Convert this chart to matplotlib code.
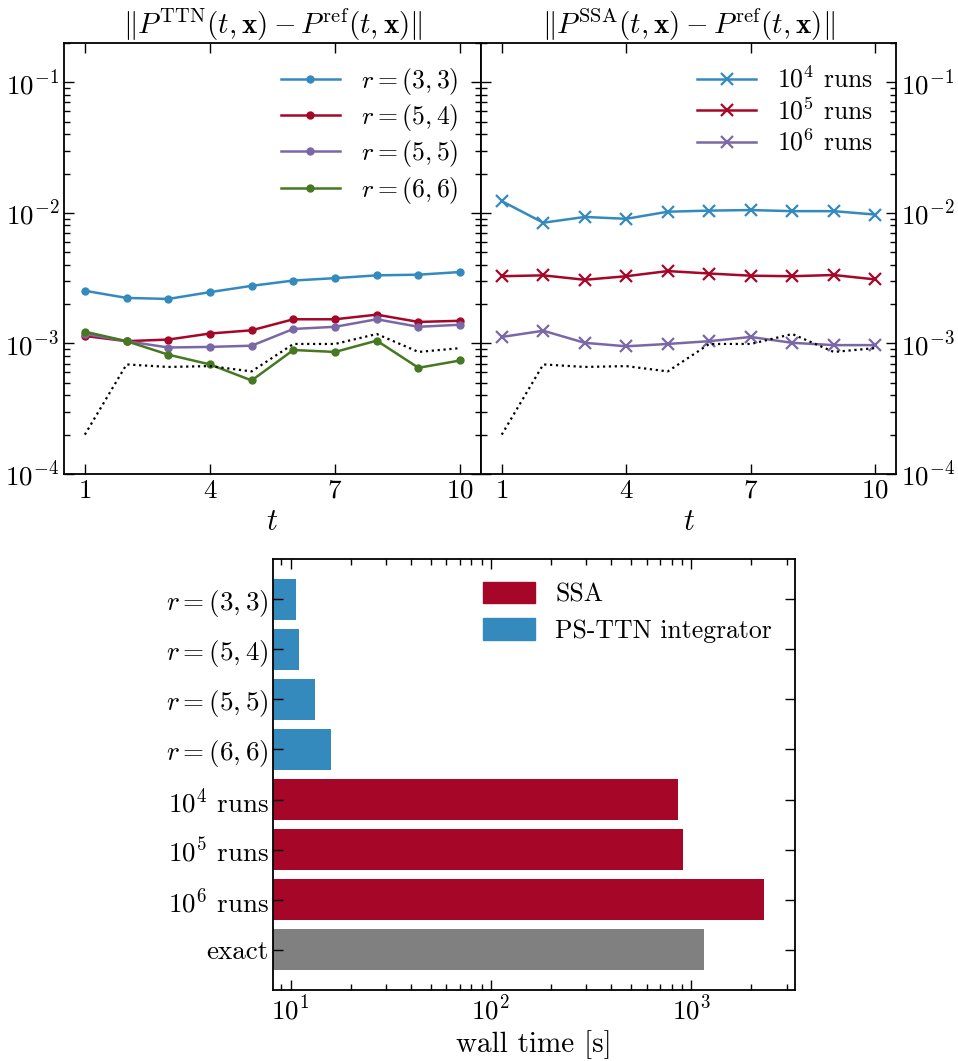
import matplotlib
matplotlib.use('Agg')
import matplotlib.pyplot as plt
import numpy as np
from matplotlib.patches import Patch

plt.rcParams['font.family'] = 'serif'
plt.rcParams['font.serif'] = ['cmr10']
plt.rcParams['mathtext.fontset'] = 'cm'
plt.rcParams['axes.formatter.use_mathtext'] = True
plt.rcParams['axes.unicode_minus'] = False

# colours (bmh-like)
c_blue = '#348ABD'
c_red = '#A60628'
c_purple = '#7A68A6'
c_green = '#467821'
c_gray = '#808080'

t = np.arange(1, 11)

# error of the TTN integrator for various ranks
err_r33 = [2.53e-3, 2.23e-3, 2.19e-3, 2.47e-3, 2.76e-3, 3.03e-3, 3.16e-3, 3.32e-3, 3.36e-3, 3.52e-3]
err_r54 = [1.14e-3, 1.04e-3, 1.07e-3, 1.19e-3, 1.26e-3, 1.53e-3, 1.53e-3, 1.66e-3, 1.46e-3, 1.49e-3]
err_r55 = [1.18e-3, 1.04e-3, 9.3e-4, 9.4e-4, 9.6e-4, 1.29e-3, 1.34e-3, 1.53e-3, 1.34e-3, 1.39e-3]
err_r66 = [1.23e-3, 1.04e-3, 8.2e-4, 6.9e-4, 5.2e-4, 8.9e-4, 8.6e-4, 1.05e-3, 6.5e-4, 7.4e-4]

# error of SSA for various numbers of runs
err_ssa4 = [1.23e-2, 8.4e-3, 9.3e-3, 9.0e-3, 1.02e-2, 1.04e-2, 1.05e-2, 1.03e-2, 1.03e-2, 9.7e-3]
err_ssa5 = [3.27e-3, 3.32e-3, 3.07e-3, 3.27e-3, 3.58e-3, 3.43e-3, 3.30e-3, 3.27e-3, 3.34e-3, 3.09e-3]
err_ssa6 = [1.12e-3, 1.25e-3, 1.01e-3, 9.5e-4, 9.9e-4, 1.04e-3, 1.12e-3, 1.01e-3, 9.7e-4, 9.7e-4]

# reference (dotted) curve
ref_curve = [2.0e-4, 6.9e-4, 6.6e-4, 6.7e-4, 6.1e-4, 9.9e-4, 9.9e-4, 1.18e-3, 8.6e-4, 9.2e-4]

# wall times
bar_labels = [r'$r=(3,3)$', r'$r=(5,4)$', r'$r=(5,5)$', r'$r=(6,6)$',
              r'$10^4$ runs', r'$10^5$ runs', r'$10^6$ runs', 'exact']
wall_times = [10.7, 11.0, 13.2, 16.0, 855, 906, 2317, 1161]
bar_colors = [c_blue] * 4 + [c_red] * 3 + [c_gray]

fig = plt.figure(figsize=(9.58, 10.61), dpi=100)
ax1 = fig.add_axes([0.0668, 0.5533, 0.4353, 0.4062])
ax2 = fig.add_axes([0.5021, 0.5533, 0.4332, 0.4062], sharey=ax1)
ax3 = fig.add_axes([0.2853, 0.0669, 0.5446, 0.4062])

fs_tick = 19.5
fs_lab = 21

for lbl, y, col in zip([r'$r=(3,3)$', r'$r=(5,4)$', r'$r=(5,5)$', r'$r=(6,6)$'],
                       [err_r33, err_r54, err_r55, err_r66],
                       [c_blue, c_red, c_purple, c_green]):
    ax1.plot(t, y, '-o', color=col, lw=1.8, ms=5, label=lbl)
ax1.plot(t, ref_curve, ':', color='black', lw=1.6)

for lbl, y, col in zip([r'$10^4$ runs', r'$10^5$ runs', r'$10^6$ runs'],
                       [err_ssa4, err_ssa5, err_ssa6],
                       [c_blue, c_red, c_purple]):
    ax2.plot(t, y, '-x', color=col, lw=1.8, ms=8, mew=1.6, label=lbl)
ax2.plot(t, ref_curve, ':', color='black', lw=1.6)

for ax in (ax1, ax2):
    ax.set_yscale('log')
    ax.set_ylim(1e-4, 2e-1)
    ax.set_xlim(0.5, 10.5)
    ax.set_xticks([1, 4, 7, 10])
    ax.set_xlabel(r'$t$', fontsize=fs_lab + 1)
    ax.tick_params(which='both', direction='in', top=True, right=True, left=True)
    ax.tick_params(which='major', length=7, width=1, labelsize=fs_tick)
    ax.tick_params(which='minor', length=4, width=1)
    for s in ax.spines.values():
        s.set_linewidth(1.3)
    ax.legend(loc='upper right', fontsize=fs_tick - 1, frameon=False,
              handlelength=2.3, labelspacing=0.2, bbox_to_anchor=(1.0, 1.0))

ax2.tick_params(which='both', labelleft=False, labelright=True)

ax1.set_title(r'$\Vert P^{\mathrm{TTN}}(t,\mathbf{x}) - P^{\mathrm{ref}}(t,\mathbf{x})\Vert$',
              fontsize=21, pad=5)
ax2.set_title(r'$\Vert P^{\mathrm{SSA}}(t,\mathbf{x}) - P^{\mathrm{ref}}(t,\mathbf{x})\Vert$',
              fontsize=21, pad=5)

# wall time bar chart
ypos = np.arange(len(bar_labels))
ax3.barh(ypos, wall_times, height=0.82, color=bar_colors)
ax3.set_xscale('log')
ax3.set_xlim(8.2, 3300)
ax3.set_yticks(ypos)
ax3.set_yticklabels(bar_labels)
ax3.invert_yaxis()
ax3.set_xlabel('wall time [s]', fontsize=fs_lab)
ax3.tick_params(which='both', direction='in', top=True, right=True)
ax3.tick_params(which='major', length=7, width=1, labelsize=fs_tick)
ax3.tick_params(which='minor', length=4, width=1)
for s in ax3.spines.values():
    s.set_linewidth(1.3)
ax3.legend(handles=[Patch(color=c_red, label='SSA'),
                    Patch(color=c_blue, label='PS-TTN integrator')],
           loc='upper right', fontsize=fs_tick - 1, frameon=False,
           handlelength=2.0, handleheight=0.9, labelspacing=0.45,
           bbox_to_anchor=(1.0, 1.0))

fig.savefig('out.png', dpi=100)
